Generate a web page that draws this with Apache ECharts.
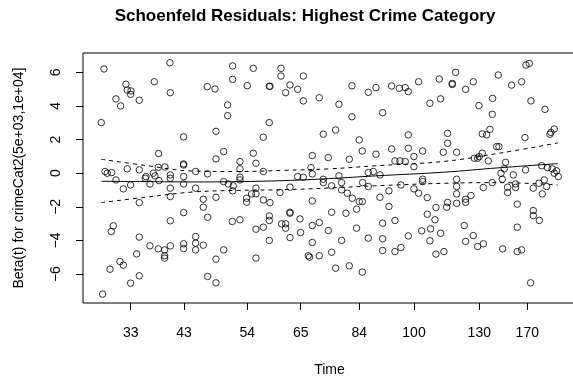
<!DOCTYPE html>
<html>
<head>
<meta charset="utf-8">
<script src="https://cdn.jsdelivr.net/npm/echarts@6/dist/echarts.min.js"></script>
<style>html,body{margin:0;padding:0;background:#fff}#chart{width:573px;height:379px}</style>
</head>
<body>
<div id="chart"></div>
<script>
// transformed event time (0 = first event, 100 = last event) and scaled Schoenfeld residuals
const residTime = [
0.59,15.05,5.41,5.70,6.51,6.43,3.22,4.24,8.33,11.62,15.12,0,18.04,12.56,18.04,18.04,5.70,12.49,13.95,
0.82,1.32,2.27,3.22,4.83,6.43,8.33,9.79,9.65,10.67,11.40,11.76,12.64,15.13,15.13,15.13,15.13,18.04,18.04,20.67,20.67,
8.33,18.04,15.13,2.64,2.19,8.33,10.67,12.49,13.88,13.88,13.88,15.13,18.04,18.04,20.67,20.67,20.67,7.75,4.10,4.83,1.91,8.33,6.43,0.30,
28.78,33.30,39.37,39.37,44.26,28.78,23.23,24.91,31.99,36.81,36.95,41.34,40.39,43.02,47.76,44.26,27.68,27.68,36.81,25.13,35.50,48.64,26.81,25.13,33.30,30.38,33.89,46.23,45.94,30.38,
23.30,30.38,30.38,35.50,43.02,44.26,46.23,26.81,27.83,28.92,28.78,22.35,22.35,25.13,23.30,31.84,31.84,32.94,33.89,33.89,35.50,36.96,39.15,41.34,46.23,
36.81,36.81,41.34,41.34,43.53,28.70,30.38,39.51,40.39,40.39,33.89,35.50,36.81,41.34,43.67,46.23,47.76,46.23,22.35,26.81,25.13,33.89,45.35,45.64,47.76,23.30,25.13,
54.92,58.50,60.18,63.61,65.29,66.60,67.26,69.52,74.05,52.07,54.92,61.64,72.00,74.34,51.34,56.52,67.26,75.87,75.87,57.18,60.18,63.61,67.26,70.40,74.93,49.73,54.33,68.50,68.50,64.34,65.43,66.60,
48.64,48.64,52.07,50.46,52.65,52.65,53.90,54.99,56.52,57.18,57.25,58.50,59.59,61.05,58.50,61.05,63.02,63.02,65.65,68.50,69.52,70.40,70.40,71.42,73.32,75.66,75.87,
50.46,53.60,55.94,49.73,55.94,52.65,58.50,61.64,61.64,64.34,67.26,70.18,71.42,73.10,72.15,74.34,72.00,50.46,61.64,64.34,65.65,73.32,75.07,51.34,54.33,57.18,
77.63,76.90,76.90,79.82,81.50,86.97,89.89,92.09,93.03,93.76,85.73,82.74,85.66,94.13,97.20,77.85,83.47,84.42,85.15,86.61,87.12,92.82,98.29,98.51,99.24,
81.72,82.45,82.81,83.47,84.78,88.57,88.28,92.96,96.47,97.76,98.79,99.74,
77.85,77.85,77.85,77.85,79.82,79.82,80.99,83.69,85.66,87.56,87.85,90.26,89.02,89.02,90.77,90.77,94.64,95.88,97.05,97.56,96.61,99.24,100.12,
91.14,94.64,94.64,95.96,79.52,81.50,79.82,82.45,83.69,91.14,87.92,91.14,92.09,94.06
];
const residBeta = [
6.20,6.57,5.29,4.95,4.89,4.69,4.42,4.00,4.34,5.44,4.79,3.01,2.16,1.17,0.55,0.49,0.26,0.35,0.37,
0.10,0.00,0.04,-0.40,-0.93,-0.70,0.20,-0.20,-0.30,-0.64,0.00,-0.16,-0.44,-0.10,-0.30,-0.89,-1.39,-0.20,-0.64,0.10,-0.89,
-1.75,-2.34,-2.83,-3.13,-3.47,-3.80,-4.32,-4.50,-4.56,-4.91,-5.05,-4.32,-4.20,-4.48,-3.77,-4.16,-4.56,-4.80,-5.25,-5.47,-5.71,-6.10,-6.54,-7.19,
6.38,6.24,6.24,5.78,5.78,5.58,5.15,5.01,5.21,5.17,5.17,5.25,4.79,4.99,4.49,4.30,4.06,3.42,3.01,2.49,2.14,2.32,1.29,0.85,1.19,0.69,0.59,1.05,0.33,0.26,
-0.04,-0.24,-0.40,0.10,-0.20,-0.24,-0.04,-0.50,-0.64,-0.75,-1.05,-1.55,-2.02,-1.43,-2.62,-1.49,-1.72,-1.23,-1.23,-0.89,-1.59,-1.75,-1.15,-0.83,-1.65,
-2.54,-2.81,-2.32,-2.38,-2.72,-2.87,-2.77,-3.01,-3.01,-3.27,-3.33,-3.21,-4.00,-3.83,-3.53,-3.11,-2.93,-4.12,-4.28,-4.56,-5.11,-5.05,-4.91,-4.99,-4.91,-6.14,-6.52,
5.20,4.81,5.09,5.19,5.05,5.09,4.85,5.44,5.60,4.10,3.36,3.60,4.16,4.42,2.57,1.98,2.28,2.37,1.78,1.32,1.13,1.44,1.48,1.32,1.25,0.93,0.83,0.99,0.39,0.73,0.73,0.69,
-0.36,-0.56,-0.16,-0.75,-0.56,-0.99,-1.19,-1.49,-1.69,-1.69,-0.56,0.04,0.10,-0.10,-0.79,-1.43,-1.05,-1.98,-0.70,-0.93,-1.19,-0.36,-0.50,-1.45,-2.04,-2.02,-1.74,
-2.32,-2.38,-2.14,-3.41,-3.27,-4.00,-3.86,-2.97,-3.90,-2.81,-3.73,-3.43,-2.44,-2.77,-3.31,-3.57,-4.02,-4.70,-4.60,-4.66,-4.42,-4.81,-4.66,-5.65,-5.51,-5.88,
6.00,5.34,5.28,4.99,5.44,5.84,5.24,5.44,6.43,6.53,4.45,4.02,3.50,4.30,3.80,1.25,2.34,2.28,2.61,1.58,1.58,2.12,2.32,2.43,2.63,
0.89,0.89,0.99,1.19,0.73,0.65,0.26,0.20,0.45,0.33,0.26,0.14,
-0.36,-0.79,-1.23,-1.79,-1.55,-1.73,-1.33,-0.85,-0.56,0.00,-0.36,-0.10,-0.83,-1.15,-0.64,-0.85,-0.89,-0.60,-0.40,-0.79,-1.23,0.00,-0.20,
-1.84,-2.22,-2.52,-2.81,-3.11,-3.71,-4.06,-4.36,-4.20,-3.21,-4.50,-4.66,-4.56,-6.52
];
// smoothed beta(t) and its confidence band
const fitTime  = [0, 10, 20, 30, 40, 50, 60, 75, 87, 100];
const fitBeta  = [-0.48, -0.50, -0.52, -0.50, -0.44, -0.32, -0.16, 0.06, 0.32, 0.57];
const upperCI  = [0.83, 0.45, 0.13, 0.10, 0.17, 0.26, 0.44, 0.70, 1.18, 1.80];
const lowerCI  = [-1.75, -1.42, -1.12, -1.02, -0.98, -0.88, -0.75, -0.60, -0.56, -0.70];
// axis ticks
const xTickValues = [6.45, 18.12, 31.99, 43.69, 56.53, 68.51, 82.81, 93.33];
const xTickLabels = ['33', '43', '54', '65', '84', '100', '130', '170'];
const yTickValues = [-6, -4, -2, 0, 2, 4, 6];

const FONT = "'Liberation Sans', Arial, Helvetica, sans-serif";
const pts = residTime.map((t, i) => [t, residBeta[i]]);
const zip = (a, b) => a.map((v, i) => [v, b[i]]);

const chart = echarts.init(document.getElementById('chart'), null, {renderer: 'canvas'});
chart.setOption({
  animation: false,
  backgroundColor: '#ffffff',
  title: {
    text: 'Schoenfeld Residuals: Highest Crime Category',
    left: 300, top: 3, textAlign: 'center',
    textStyle: {fontFamily: FONT, fontSize: 17, fontWeight: 'bold', color: '#000'}
  },
  grid: {left: 83, top: 53, width: 493, height: 250, containLabel: false, outerBoundsMode: 'none',
         show: true, borderColor: '#000', borderWidth: 1, backgroundColor: 'transparent'},
  xAxis: {
    type: 'value', min: -4, max: 104,
    name: 'Time', nameLocation: 'middle', nameGap: 60,
    nameTextStyle: {fontFamily: FONT, fontSize: 14, color: '#000'},
    axisLine: {show: false, onZero: false},
    splitLine: {show: false},
    axisTick: {show: true, inside: false, length: 7, customValues: xTickValues, lineStyle: {color: '#000', width: 1}},
    axisLabel: {
      show: true, margin: 23, customValues: xTickValues,
      fontFamily: FONT, fontSize: 14, color: '#000',
      formatter: v => { let best = 0; xTickValues.forEach((x, i) => { if (Math.abs(x - v) < Math.abs(xTickValues[best] - v)) best = i; }); return xTickLabels[best]; }
    }
  },
  yAxis: {
    type: 'value', min: -7.72, max: 7.15,
    name: 'Beta(t) for crimeCat2(5e+03,1e+04]', nameLocation: 'middle', nameGap: 57,
    nameTextStyle: {fontFamily: FONT, fontSize: 14, color: '#000'},
    axisLine: {show: false, onZero: false},
    splitLine: {show: false},
    axisTick: {show: true, inside: false, length: 7, customValues: yTickValues, lineStyle: {color: '#000', width: 1}},
    axisLabel: {show: true, rotate: 90, margin: 20, customValues: yTickValues, fontFamily: FONT, fontSize: 14, color: '#000',
      formatter: v => (v < 0 ? '\u2212' + Math.abs(v) : String(v))}
  },
  series: [
    {type: 'scatter', data: pts, symbol: 'circle', symbolSize: 6.5,
     itemStyle: {color: 'rgba(0,0,0,0)', borderColor: '#000', borderWidth: 1}, silent: true, z: 3},
    {type: 'line', data: zip(fitTime, fitBeta), smooth: 0.4, symbol: 'none',
     lineStyle: {color: '#000', width: 1, type: 'solid'}, z: 2},
    {type: 'line', data: zip(fitTime, upperCI), smooth: 0.4, symbol: 'none',
     lineStyle: {color: '#000', width: 1, type: [4, 4]}, z: 2},
    {type: 'line', data: zip(fitTime, lowerCI), smooth: 0.4, symbol: 'none',
     lineStyle: {color: '#000', width: 1, type: [4, 4]}, z: 2}
  ]
});
</script>
</body>
</html>
